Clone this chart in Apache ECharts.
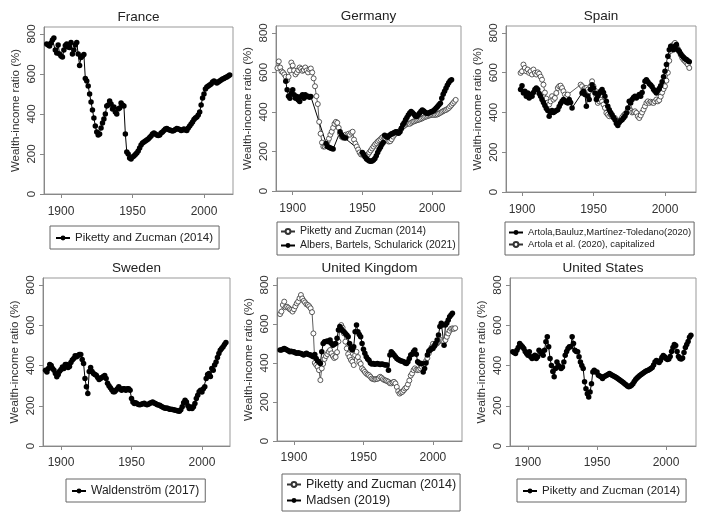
<!DOCTYPE html>
<html><head><meta charset="utf-8">
<script src="https://cdn.jsdelivr.net/npm/echarts@6/dist/echarts.min.js"></script>
<style>html,body{margin:0;padding:0;background:#fff}#c{width:702px;height:523px}</style>
</head><body><div id="c"></div>
<script>
// ---------- DATA (annual values, % of national income) ----------
const yTicks = [0, 200, 400, 600, 800];
const xTicks = [1900, 1950, 2000];

const frStart = 1890;
const frPZ = [
 750,745,740,755,770,780,720,705,745,700,
 690,685,720,742,750,735,733,758,700,720,
 745,758,700,642,683,690,697,578,565,540,
 500,460,420,380,340,310,295,300,330,355,
 375,400,440,445,465,450,425,435,410,400,
 425,430,455,445,440,300,210,200,180,175,
 185,190,198,205,215,230,245,255,260,265,
 270,275,282,290,300,305,300,295,292,295,
 305,310,318,325,328,322,320,318,315,318,
 322,328,325,322,318,320,325,320,318,330,
 340,350,360,372,380,385,395,410,445,480,
 500,525,535,540,545,550,560,565,560,555,
 560,565,570,575,578,582,585,590,595];

const dePZStart = 1889;
const dePZ = [622,
 656,625,605,600,590,578,560,578,610,650,
 635,610,590,600,612,625,618,608,612,625,
 610,600,615,620,600,570,530,480,440,350,
 290,245,225,225,230,250,265,285,300,320,
 340,350,345,320,290,275,270,275,285,280,
 290,285,295,300,260,240,225,210,195,185,
 185,180,175,178,185,195,205,215,225,235,
 242,250,256,262,270,275,268,260,255,250,
 252,262,275,285,292,296,300,305,315,325,
 330,335,340,342,340,345,350,352,355,358,
 360,362,365,368,372,375,377,380,382,384,
 385,385,385,386,388,392,396,400,404,408,
 410,415,420,428,436,444,452,461];

const deABSStart = 1895;
const deABS = [555,512,480,470,495,
 512,487,470,478,461,453,478,487,470,487,
 478,480,475,478,null,null,null,null,null,null,
 null,null,null,null,240,225,222,218,215,212,
 null,null,null,null,300,285,275,270,268,null,
 null,null,null,null,null,null,null,null,null,null,
 195,185,172,162,157,152,150,152,157,165,
 178,195,210,222,235,245,282,276,272,280,
 285,290,292,296,300,298,292,300,318,335,
 345,360,372,385,395,402,396,388,380,377,
 385,394,402,410,405,398,394,394,396,400,
 402,406,412,420,428,436,444,470,490,505,
 520,535,548,558,563];

const esStart = 1899;
const esABM = [515,
 535,498,507,482,498,473,490,482,500,515,
 523,515,495,482,465,450,435,420,410,381,
 400,410,400,405,410,414,430,445,456,465,
 458,452,448,465,450,423,null,null,null,null,
 null,null,498,507,490,431,482,465,515,540,
 523,498,465,482,495,507,515,500,482,456,
 431,414,400,389,375,364,344,334,350,358,
 364,372,381,398,423,456,448,465,475,482,
 473,482,490,482,500,530,557,565,555,545,
 538,530,515,507,498,510,520,535,555,580,
 607,641,683,716,733,725,716,733,742,716,
 708,695,685,678,670,666,660,655];
const esCap = [599,
 607,641,624,607,616,599,607,591,616,599,
 591,602,595,580,565,540,500,470,450,440,
 456,482,465,473,498,523,532,535,523,507,
 490,480,490,null,null,null,null,null,null,null,
 null,540,532,515,523,523,515,507,532,557,
 532,510,482,448,456,465,455,440,423,398,
 389,381,389,381,375,372,356,347,356,364,
 375,385,392,398,414,423,410,400,402,406,
 398,381,372,385,400,415,431,448,456,448,
 454,450,448,456,465,456,462,480,500,518,
 532,560,600,660,710,735,742,750,735,720,
 705,690,675,665,658,650,641,624];

const seStart = 1889;
const seW = [377,
 368,385,405,400,385,377,360,344,355,372,
 380,393,385,405,405,390,395,415,427,435,
 448,443,450,455,455,430,410,335,294,261,
 370,390,370,360,355,352,340,330,335,340,
 345,350,335,312,300,290,280,270,270,277,
 285,294,285,277,285,285,277,285,285,277,
 236,219,211,215,210,206,205,208,210,212,
 208,205,208,212,215,219,214,211,206,204,
 202,198,194,190,188,189,186,183,183,182,
 180,178,176,174,173,180,195,215,227,219,
 200,186,194,186,195,211,236,252,270,277,
 269,285,294,335,355,360,345,385,377,402,
 418,440,460,476,485,493,505,514];

const ukStart = 1890;
const ukPZ = [
 650,663,697,714,685,688,682,675,671,663,
 675,690,705,714,731,748,730,718,710,700,
 697,690,680,660,551,400,390,380,363,312,
 372,395,420,435,445,457,466,449,435,425,
 430,455,510,570,594,580,551,509,474,445,
 430,415,406,389,440,457,430,405,395,372,
 363,354,346,340,337,329,320,317,315,317,
 318,322,329,324,317,312,310,307,303,296,
 295,300,303,295,277,255,243,248,252,260,
 269,275,290,310,335,346,363,372,365,363,
 365,372,380,389,397,410,425,449,466,480,
 498,491,495,500,509,515,517,512,509,517,
 534,551,565,575,577,574,578];
const ukMadsen = [
 466,466,470,474,470,466,462,457,460,457,
 457,452,449,452,449,448,444,440,446,449,
 445,442,440,436,432,443,423,410,406,397,
 457,500,509,510,512,509,517,500,491,495,
 500,526,569,586,575,565,560,551,543,534,
 500,475,466,483,560,594,560,545,534,500,
 470,449,432,420,414,400,395,397,393,395,
 397,395,392,395,393,390,389,389,363,440,
 457,449,440,432,423,418,414,410,408,406,
 400,397,406,423,440,445,457,466,445,406,
 400,397,397,354,372,400,440,460,466,474,
 474,485,500,517,543,586,603,594,491,594,
 605,620,637,645,654];

const usStart = 1889;
const usPZ = [468,
 465,460,476,490,510,501,493,485,470,460,
 451,468,443,435,445,451,435,443,476,468,
 460,451,476,518,543,493,435,400,370,344,
 385,418,400,393,385,393,418,451,470,485,
 493,493,543,510,476,470,468,443,418,400,
 385,319,285,260,244,269,310,368,377,368,
 368,352,348,344,335,344,348,352,355,360,
 355,352,348,344,340,335,330,325,320,315,
 310,305,298,295,297,302,310,320,330,338,
 344,350,355,360,365,370,374,377,380,385,
 390,402,418,425,420,415,425,440,450,443,
 435,430,432,445,470,490,505,500,470,445,
 435,432,438,465,490,505,520,540,550];

// ---------- LAYOUT ----------
const FONT = '"Liberation Sans", Arial, Helvetica, sans-serif';
const YMAX = 835;

function pairs(start, arr) {
  const out = [];
  arr.forEach((v, i) => { if (v !== null) out.push([start + i, v]); });
  return out;
}

const panels = [
  {title: 'France', g: {left: 44, top: 27, width: 189, height: 167}, xr: [1888.1, 2020.3], lm: 12,
   lg: {left: 50, top: 226, font: 11.5, pad: [6, 6, 5, 5]},
   s: [{name: 'FR|Piketty and Zucman (2014)', d: pairs(frStart, frPZ), open: false}]},
  {title: 'Germany', g: {left: 276, top: 26, width: 185, height: 165}, xr: [1888.0, 2020.8], lm: 12,
   lg: {left: 277, top: 222, font: 10.5, pad: [4, 3, 4, 3]},
   s: [{name: 'DE|Piketty and Zucman (2014)', d: pairs(dePZStart, dePZ), open: true},
       {name: 'DE|Albers, Bartels, Schularick (2021)', d: pairs(deABSStart, deABS), open: false}]},
  {title: 'Spain', g: {left: 506, top: 26, width: 190, height: 166}, xr: [1888.8, 2021.7], lm: 12,
   lg: {left: 505, top: 222, font: 9.4, pad: [6, 3, 6, 3]},
   s: [{name: 'ES|Artola,Bauluz,Martínez-Toledano(2020)', d: pairs(esStart, esABM), open: false},
       {name: 'ES|Artola et al. (2020), capitalized', d: pairs(esStart, esCap), open: true}], order: [1, 0]},
  {title: 'Sweden', g: {left: 43, top: 278, width: 187, height: 168}, xr: [1887.2, 2019.9], lm: 11,
   lg: {left: 66, top: 479, font: 12, pad: [6, 6, 5, 5]},
   s: [{name: 'SE|Waldenström (2017)', d: pairs(seStart, seW), open: false}]},
  {title: 'United Kingdom', g: {left: 277, top: 278, width: 185, height: 163}, xr: [1887.8, 2020.9], lm: 11,
   lg: {left: 282, top: 474, font: 12.5, pad: [4, 4, 4, 4]},
   s: [{name: 'UK|Piketty and Zucman (2014)', d: pairs(ukStart, ukPZ), open: true},
       {name: 'UK|Madsen (2019)', d: pairs(ukStart, ukMadsen), open: false}]},
  {title: 'United States', g: {left: 510, top: 278, width: 186, height: 168}, xr: [1887.0, 2021.7], lm: 11,
   lg: {left: 517, top: 479, font: 11.5, pad: [6, 6, 5, 5]},
   s: [{name: 'US|Piketty and Zucman (2014)', d: pairs(usStart, usPZ), open: false}]}
];

const option = {
  animation: false,
  backgroundColor: '#fff',
  textStyle: {fontFamily: FONT},
  title: [], grid: [], xAxis: [], yAxis: [], legend: [], series: []
};

panels.forEach((p, i) => {
  option.title.push({
    text: p.title, left: p.g.left + p.g.width / 2, top: p.g.top - 17, textAlign: 'center', padding: 0,
    textStyle: {fontSize: 13.5, fontWeight: 'normal', color: '#222', fontFamily: FONT}
  });
  option.grid.push({left: p.g.left, top: p.g.top, width: p.g.width, height: p.g.height,
    show: true, borderColor: '#999', borderWidth: 1, backgroundColor: 'transparent'});
  option.xAxis.push({
    type: 'value', gridIndex: i, min: p.xr[0], max: p.xr[1],
    axisLine: {show: true, onZero: false, lineStyle: {color: '#888', width: 1}},
    axisTick: {show: true, length: 4, customValues: xTicks, lineStyle: {color: '#888'}},
    axisLabel: {customValues: xTicks, formatter: v => String(Math.round(v)), margin: p.lm,
      fontSize: 12, color: '#333', fontFamily: FONT},
    splitLine: {show: false}
  });
  option.yAxis.push({
    type: 'value', gridIndex: i, min: 0, max: YMAX,
    name: 'Wealth-income ratio (%)', nameLocation: 'middle', nameRotate: 90, nameGap: 22,
    nameTextStyle: {fontSize: 11.5, color: '#333', fontFamily: FONT},
    axisLine: {show: true, lineStyle: {color: '#888', width: 1}},
    axisTick: {show: true, length: 4, customValues: yTicks, lineStyle: {color: '#888'}},
    axisLabel: {customValues: yTicks, formatter: v => String(Math.round(v)), rotate: 90, margin: 6,
      fontSize: 11.5, color: '#333', fontFamily: FONT},
    splitLine: {show: false}
  });
  option.legend.push({
    left: p.lg.left, top: p.lg.top, orient: 'vertical',
    data: p.s.map(s => s.name),
    formatter: n => n.split('|')[1],
    itemWidth: 14, itemHeight: 6, itemGap: 3,
    padding: p.lg.pad,
    borderColor: '#666', borderWidth: 1, borderRadius: 0,
    textStyle: {fontSize: p.lg.font, color: '#222', fontFamily: FONT},
    selectedMode: false
  });
  const order = p.order || (p.s.length === 2 ? [0, 1] : [0]);
  order.forEach(k => {
    const s = p.s[k];
    option.series.push({
      type: 'line', name: s.name, xAxisIndex: i, yAxisIndex: i, data: s.d,
      symbol: 'circle', symbolSize: s.open ? 5 : 5.5,
      showSymbol: true, showAllSymbol: true,
      lineStyle: {width: s.open ? 0.8 : 1, color: s.open ? '#333' : '#000'},
      itemStyle: s.open ? {color: '#fff', borderColor: '#333', borderWidth: 0.8} : {color: '#000'},
      emphasis: {disabled: true}
    });
  });
});

const chart = echarts.init(document.getElementById('c'), null, {renderer: 'canvas'});
chart.setOption(option);
</script></body></html>
